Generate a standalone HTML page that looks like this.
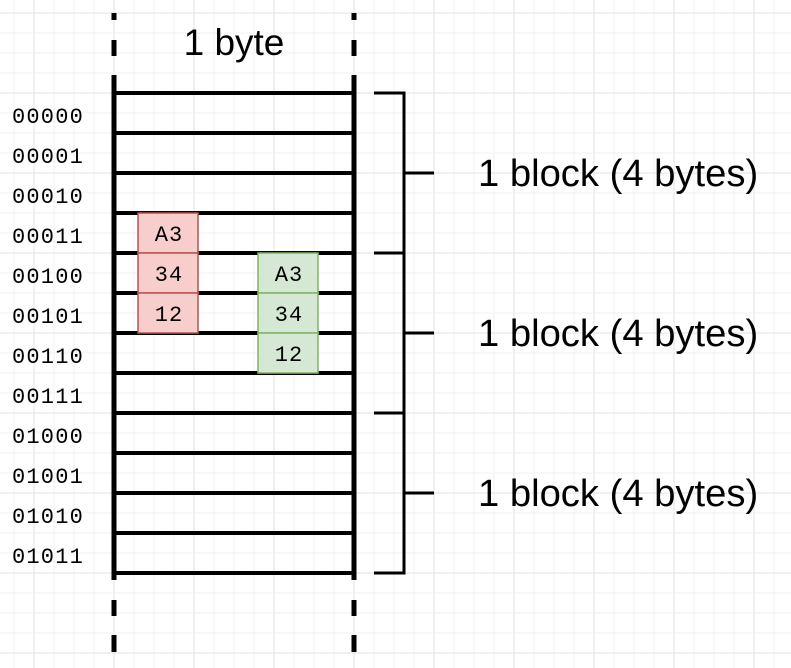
<!DOCTYPE html>
<html><head><meta charset="utf-8"><style>
body{margin:0;background:#fff}
svg{display:block}
</style></head><body>
<svg width="791" height="668" xmlns="http://www.w3.org/2000/svg">
<g id="grid"></g>
<g id="rows"></g>
<g stroke="#000" stroke-width="5">
<line x1="114" y1="75" x2="114" y2="580"/><line x1="354" y1="75" x2="354" y2="580"/>
<line x1="114" y1="13" x2="114" y2="20"/><line x1="114" y1="40" x2="114" y2="56"/>
<line x1="354" y1="13" x2="354" y2="20"/><line x1="354" y1="40" x2="354" y2="56"/>
<line x1="114" y1="600" x2="114" y2="616"/><line x1="114" y1="635" x2="114" y2="652"/>
<line x1="354" y1="600" x2="354" y2="616"/><line x1="354" y1="635" x2="354" y2="652"/>
</g>
<text x="234" y="55" text-anchor="middle" font-family="Liberation Sans, sans-serif" font-size="37">1 byte</text>
<g id="cells" font-family="Liberation Mono, monospace" font-size="22" letter-spacing="1"></g>
<g id="blocks"></g>
</svg>
<script>
const addrs=['00000','00001','00010','00011','00100','00101','00110','00111','01000','01001','01010','01011'];
const redVals=['A3','34','12'];const redStart=3;
const greenVals=['A3','34','12'];const greenStart=4;
const blockLabels=['1 block (4 bytes)','1 block (4 bytes)','1 block (4 bytes)'];
const NS='http://www.w3.org/2000/svg';
function mk(t,a,p){const e=document.createElementNS(NS,t);for(const k in a)e.setAttribute(k,a[k]);p.appendChild(e);return e;}
const g=document.getElementById('grid');
for(let x=14;x<791;x+=20){const l=mk('line',{x1:x,y1:0,x2:x,y2:668,stroke:((x-34)%80===0)?'#e2e2e2':'#f2f2f2','stroke-width':1},g);}
for(let y=13;y<668;y+=20){const l=mk('line',{x1:0,y1:y,x2:791,y2:y,stroke:((y-13)%80===0)?'#e2e2e2':'#f2f2f2','stroke-width':1},g);}
const rowY=i=>93+i*40;
const cells=document.getElementById('cells');
function box(vals,start,x,fill,stroke,name){vals.forEach((v,i)=>{const r=mk('rect',{x:x,y:rowY(start+i),width:60,height:40,fill:fill,stroke:stroke,'stroke-width':1.5},cells);


const t=mk('text',{x:x+31,y:rowY(start+i)+28,'text-anchor':'middle'},cells);t.textContent=v;

});}
box(redVals,redStart,138,'#f8cecc','#b85450','red');
box(greenVals,greenStart,258,'#d5e8d4','#82b366','green');
const rows=document.getElementById('rows');
for(let i=0;i<=addrs.length;i++){const l=mk('line',{x1:114,y1:rowY(i),x2:354,y2:rowY(i),stroke:'#000','stroke-width':4},rows);

}
addrs.forEach((a,i)=>{const t=mk('text',{x:12,y:rowY(i)+30,'font-family':'Liberation Mono, monospace','font-size':22,'letter-spacing':1.2},rows);t.textContent=a;

});
const b=document.getElementById('blocks');
blockLabels.forEach((lab,k)=>{const y0=rowY(k*4),y1=rowY(k*4+4),ym=(y0+y1)/2;
mk('path',{d:`M374 ${y0} H404 V${y1} H374 M404 ${ym} H434`,fill:'none',stroke:'#000','stroke-width':3},b);
const t=mk('text',{x:478,y:ym+13,'font-family':'Liberation Sans, sans-serif','font-size':38.2},b);t.textContent=lab;

});
</script>
</body></html>
